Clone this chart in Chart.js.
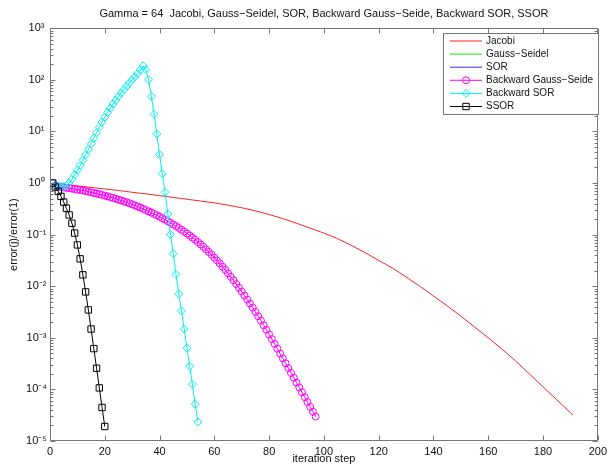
<!DOCTYPE html>
<html><head><meta charset="utf-8">
<script src="https://cdn.jsdelivr.net/npm/chart.js@4.4.1/dist/chart.umd.min.js"></script>
<style>html,body{margin:0;padding:0;background:#fff;overflow:hidden}canvas{display:block}</style>
</head><body>
<canvas id="c" width="611" height="469"></canvas>
<script>
// ---------- data ----------
const titleText = 'Gamma = 64  Jacobi, Gauss\u2212Seidel, SOR, Backward Gauss\u2212Seide, Backward SOR, SSOR';
const xAxisTitle = 'iteration step';
const yAxisTitle = 'error(j)/error(1)';
const seriesNames = ['Jacobi', 'Gauss\u2212Seidel', 'SOR', 'Backward Gauss\u2212Seide', 'Backward SOR', 'SSOR'];
const xTickValues = [0, 20, 40, 60, 80, 100, 120, 140, 160, 180, 200];
const yTickExponents = [-5, -4, -3, -2, -1, 0, 1, 2, 3];

const jacobiIter = [1, 5, 10, 15, 20, 25, 30, 35, 40, 45, 50, 55, 60, 65, 70, 75, 80, 85, 90, 95, 100,
  105, 110, 115, 120, 125, 130, 135, 140, 145, 150, 155, 160, 165, 170, 175, 180, 185, 190, 191];
const jacobiErr = [1, 0.944, 0.881, 0.822, 0.767, 0.716, 0.661, 0.617, 0.569, 0.525, 0.484, 0.447, 0.412,
  0.372, 0.331, 0.288, 0.245, 0.204, 0.166, 0.133, 0.107, 0.0832, 0.0617, 0.0447, 0.0316, 0.0224, 0.0151,
  0.01, 0.00646, 0.00417, 0.00263, 0.00162, 0.001, 0.000603, 0.000355, 0.0002, 0.000112, 6.31e-5, 3.55e-5, 3.16e-5];

const bgsErr = [1, 0.902, 0.861, 0.838, 0.818, 0.805, 0.791, 0.777, 0.762, 0.746,
  0.730, 0.714, 0.697, 0.679, 0.661, 0.643, 0.625, 0.607, 0.588, 0.569,
  0.551, 0.532, 0.513, 0.495, 0.476, 0.458, 0.440, 0.422, 0.405, 0.386,
  0.368, 0.350, 0.333, 0.315, 0.299, 0.282, 0.267, 0.251, 0.237, 0.222,
  0.208, 0.195, 0.182, 0.169, 0.157, 0.146, 0.135, 0.124, 0.115, 0.105,
  0.0959, 0.0873, 0.0793, 0.0716, 0.0646, 0.0579, 0.0518, 0.0460, 0.0407, 0.0359,
  0.0315, 0.0275, 0.0239, 0.0207, 0.0178, 0.0152, 0.0130, 0.0110, 0.00933, 0.00785,
  0.00658, 0.00552, 0.00461, 0.00384, 0.00318, 0.00262, 0.00215, 0.00175, 0.00143, 0.00116,
  0.000942, 0.000762, 0.000615, 0.000495, 0.000399, 0.000321, 0.000259, 0.000208, 0.000168, 0.000135,
  0.000109, 8.77e-5, 7.06e-5, 5.69e-5, 4.58e-5, 3.69e-5, 2.97e-5];

const bsorErr = [1, 0.933, 0.881, 0.855, 0.855, 0.902, 1.0, 1.175, 1.445, 1.778,
  2.188, 2.754, 3.508, 4.467, 5.754, 7.413, 9.44, 12.02, 15.14, 18.84,
  23.17, 28.18, 33.88, 40.27, 47.32, 55.59, 64.57, 74.99, 87.1, 100,
  114.8, 131.8, 154.9, 186.2, 158.5, 100, 47.9, 21.4, 8.91, 3.55,
  1.51, 0.661, 0.251, 0.1, 0.0427, 0.0170, 0.00708, 0.00331, 0.00148, 0.000631,
  0.000282, 0.000126, 5.13e-5, 2.34e-5];

const ssorErr = [1, 0.832, 0.692, 0.550, 0.427, 0.324, 0.240, 0.166, 0.107, 0.0631,
  0.0339, 0.0166, 0.00776, 0.00347, 0.00148, 0.000617, 0.000257, 0.000107, 4.47e-5, 1.91e-5];

// Gauss-Seidel and SOR coincide with their backward counterparts (covered in the picture)
const gsErr = bgsErr;
const sorErr = bsorErr;

// ---------- styles ----------
const FONT = "'Liberation Sans', Arial, sans-serif";
const AXIS_COLOR = 'rgb(120,120,120)';
const colors = ['#ff2020', '#00ee00', '#3030ff', '#ff00ff', '#00f0f0', '#000000'];
const markers = [null, null, null, 'circle', 'rectRot', 'rect'];

const iters = arr => arr.map((_, i) => i + 1);
const pts = (xs, ys) => xs.map((x, i) => ({x: x, y: ys[i]}));

function ds(idx, data, radius, extra) {
  return Object.assign({
    label: seriesNames[idx],
    data: data,
    borderColor: colors[idx],
    borderWidth: 1,
    pointStyle: markers[idx] || 'circle',
    pointRadius: markers[idx] ? radius : 0,
    pointBorderWidth: 1,
    pointBorderColor: colors[idx],
    pointBackgroundColor: 'rgba(0,0,0,0)',
    fill: false,
    tension: 0,
    order: 6 - idx
  }, extra || {});
}

const sup = {'-': '\u207B', '0': '\u2070', '1': '\u00B9', '2': '\u00B2', '3': '\u00B3', '4': '\u2074', '5': '\u2075'};

const framePlugin = {
  id: 'frame',
  afterDraw(chart) {
    const {ctx, chartArea: a, scales} = chart;
    const xs = scales.x, ys = scales.y;
    ctx.save();
    ctx.strokeStyle = AXIS_COLOR;
    ctx.lineWidth = 1;
    const L = Math.round(a.left) + 0.5, R = Math.round(a.right) - 0.5;
    const T = Math.round(a.top) + 0.5, B = Math.round(a.bottom) - 0.5;
    ctx.beginPath();
    ctx.rect(L, T, R - L, B - T);
    xTickValues.forEach(v => {
      const p = Math.round(xs.getPixelForValue(v)) + 0.5;
      ctx.moveTo(p, B); ctx.lineTo(p, B - 5);
      ctx.moveTo(p, T); ctx.lineTo(p, T + 5);
    });
    yTickExponents.forEach(e => {
      const p = Math.round(ys.getPixelForValue(Math.pow(10, e))) + 0.5;
      ctx.moveTo(L, p); ctx.lineTo(L + 5, p);
      ctx.moveTo(R, p); ctx.lineTo(R - 5, p);
      if (e < yTickExponents[yTickExponents.length - 1]) {
        for (let m = 2; m <= 9; m++) {
          const q = Math.round(ys.getPixelForValue(m * Math.pow(10, e))) + 0.5;
          ctx.moveTo(L, q); ctx.lineTo(L + 3, q);
          ctx.moveTo(R, q); ctx.lineTo(R - 3, q);
        }
      }
    });
    ctx.stroke();

    // legend box
    const bx = 443.5, by = 33.5, bw = 155, bh = 81;
    ctx.fillStyle = '#fff';
    ctx.fillRect(bx, by, bw, bh);
    ctx.strokeStyle = AXIS_COLOR;
    ctx.strokeRect(bx, by, bw, bh);
    ctx.font = '10px ' + FONT;
    ctx.textBaseline = 'middle';
    ctx.textAlign = 'left';
    seriesNames.forEach((name, i) => {
      const cy = 41 + i * 13.1;
      ctx.strokeStyle = colors[i];
      ctx.lineWidth = 1;
      ctx.beginPath();
      ctx.moveTo(450, cy); ctx.lineTo(482, cy);
      ctx.stroke();
      const mx = 466, m = markers[i];
      ctx.beginPath();
      if (m === 'circle') { ctx.arc(mx, cy, 3.5, 0, Math.PI * 2); }
      else if (m === 'rectRot') { ctx.moveTo(mx - 4, cy); ctx.lineTo(mx, cy - 4); ctx.lineTo(mx + 4, cy); ctx.lineTo(mx, cy + 4); ctx.closePath(); }
      else if (m === 'rect') { ctx.rect(mx - 3.2, cy - 3.2, 6.4, 6.4); }
      if (m) { ctx.stroke(); }
      ctx.fillStyle = '#111';
      ctx.fillText(name, 486, cy);
    });
    ctx.restore();
  }
};

new Chart(document.getElementById('c'), {
  type: 'line',
  data: {
    datasets: [
      ds(0, pts(jacobiIter, jacobiErr), 0, {cubicInterpolationMode: 'monotone'}),
      ds(1, pts(iters(gsErr), gsErr), 0, {hidden: true}),
      ds(2, pts(iters(sorErr), sorErr), 0, {hidden: true}),
      ds(3, pts(iters(bgsErr), bgsErr), 3.5),
      ds(4, pts(iters(bsorErr), bsorErr), 4),
      ds(5, pts(iters(ssorErr), ssorErr), 4.5)
    ]
  },
  options: {
    responsive: false,
    animation: false,
    devicePixelRatio: 1,
    layout: {padding: {left: 0, right: 8, top: 0, bottom: 0}},
    plugins: {
      legend: {display: false},
      tooltip: {enabled: false},
      title: {
        display: true, text: titleText, fullSize: false,
        font: {family: FONT, size: 11, weight: 'normal'}, color: '#111',
        padding: {top: 7, bottom: 8}
      }
    },
    scales: {
      x: {
        type: 'linear', min: 0, max: 200,
        afterBuildTicks: s => { s.ticks = xTickValues.map(v => ({value: v})); },
        afterFit: s => { s.height = 28; },
        grid: {display: false, drawTicks: false},
        border: {display: false},
        ticks: {font: {family: FONT, size: 11}, color: '#111', padding: 4, maxRotation: 0},
        title: {display: true, text: xAxisTitle, font: {family: FONT, size: 11}, color: '#111', padding: {top: 0, bottom: 3}}
      },
      y: {
        type: 'logarithmic', min: 1e-5, max: 1e3,
        afterBuildTicks: s => { s.ticks = yTickExponents.map(e => ({value: Math.pow(10, e)})); },
        afterFit: s => { s.width = 50; },
        grid: {display: false, drawTicks: false},
        border: {display: false},
        ticks: {
          font: {family: FONT, size: 11}, color: '#111', padding: 3, crossAlign: 'center',
          callback: v => '10' + String(Math.round(Math.log10(v))).split('').map(c => sup[c]).join('')
        },
        title: {display: true, text: yAxisTitle, font: {family: FONT, size: 11}, color: '#111', padding: {top: 7, bottom: 0}}
      }
    }
  },
  plugins: [framePlugin]
});
</script>
</body></html>
